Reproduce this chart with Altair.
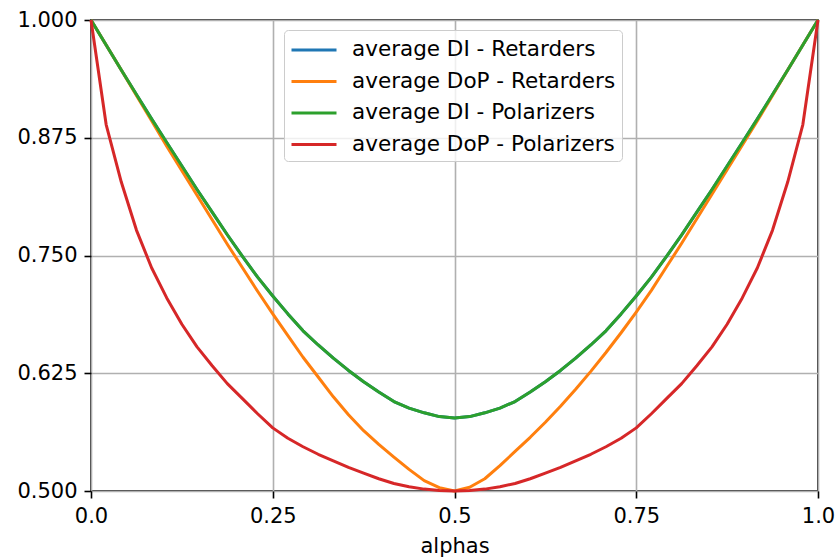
import altair as alt
import numpy as np
import pandas as pd

# sample grid of mixing coefficients
alphas = np.linspace(0.0, 1.0, 49)

series_names = [
    "average DI - Retarders",
    "average DoP - Retarders",
    "average DI - Polarizers",
    "average DoP - Polarizers",
]
series_colors = ["#1f77b4", "#ff7f0e", "#2ca02c", "#d62728"]

di_retarders = [
    1.000, 0.9735, 0.947, 0.921, 0.895, 0.870, 0.845, 0.820, 0.796, 0.772,
    0.749, 0.727, 0.707, 0.688, 0.670, 0.655, 0.641, 0.628, 0.616, 0.605,
    0.595, 0.588, 0.583, 0.579, 0.5775,
    0.579, 0.583, 0.588, 0.595, 0.605, 0.616, 0.628, 0.641, 0.655, 0.670,
    0.688, 0.707, 0.727, 0.749, 0.772, 0.796, 0.820, 0.845, 0.870, 0.895,
    0.921, 0.947, 0.9735, 1.000,
]

dop_retarders = [
    1.000, 0.9735, 0.947, 0.920, 0.893, 0.866, 0.840, 0.814, 0.788, 0.762,
    0.737, 0.712, 0.688, 0.665, 0.642, 0.621, 0.600, 0.581, 0.564, 0.5495,
    0.536, 0.523, 0.511, 0.5035, 0.500,
    0.504, 0.513, 0.527, 0.542, 0.557, 0.573, 0.590, 0.608, 0.627, 0.647,
    0.668, 0.690, 0.713, 0.738, 0.763, 0.789, 0.815, 0.841, 0.867, 0.893,
    0.920, 0.947, 0.9735, 1.000,
]

di_polarizers = [
    1.000, 0.9735, 0.947, 0.921, 0.895, 0.870, 0.845, 0.820, 0.796, 0.772,
    0.749, 0.727, 0.707, 0.688, 0.670, 0.655, 0.641, 0.628, 0.616, 0.605,
    0.595, 0.588, 0.583, 0.579, 0.5775,
    0.579, 0.583, 0.588, 0.595, 0.605, 0.616, 0.628, 0.641, 0.655, 0.670,
    0.688, 0.707, 0.727, 0.749, 0.772, 0.796, 0.820, 0.845, 0.870, 0.895,
    0.921, 0.947, 0.9735, 1.000,
]

dop_polarizers = [
    1.000, 0.889, 0.828, 0.777, 0.737, 0.705, 0.677, 0.653, 0.633, 0.614,
    0.598, 0.582, 0.567, 0.556, 0.547, 0.539, 0.532, 0.525, 0.519, 0.513,
    0.508, 0.5045, 0.502, 0.5005, 0.500,
    0.5005, 0.502, 0.5045, 0.508, 0.513, 0.519, 0.525, 0.532, 0.539, 0.547,
    0.556, 0.567, 0.582, 0.598, 0.614, 0.633, 0.653, 0.677, 0.705, 0.737,
    0.777, 0.828, 0.889, 1.000,
]

x_ticks = [0.0, 0.25, 0.5, 0.75, 1.0]
x_tick_labels = ["0.0", "0.25", "0.5", "0.75", "1.0"]
y_ticks = [0.5, 0.625, 0.75, 0.875, 1.0]

rows = []
for k, (name, values) in enumerate(zip(
        series_names, [di_retarders, dop_retarders, di_polarizers, dop_polarizers])):
    for a, v in zip(alphas, values):
        rows.append({"alpha": float(a), "value": v, "series": name, "order": k})
df = pd.DataFrame(rows)

label_map = "{" + ",".join(f"'{t}':'{l}'" for t, l in zip(x_ticks, x_tick_labels)) + "}"

FONT = "DejaVu Sans"

chart = (
    alt.Chart(df)
    .mark_line(strokeWidth=3, strokeCap="butt", strokeJoin="round")
    .encode(
        x=alt.X(
            "alpha:Q",
            title="alphas",
            scale=alt.Scale(domain=[0, 1], nice=False, zero=False),
            axis=alt.Axis(
                values=x_ticks,
                labelExpr=f"{label_map}[toString(datum.value)] || datum.label",
                labelFlush=False,
            ),
        ),
        y=alt.Y(
            "value:Q",
            title=None,
            scale=alt.Scale(domain=[0.5, 1.0], nice=False, zero=False),
            axis=alt.Axis(values=y_ticks, format=".3f"),
        ),
        color=alt.Color(
            "series:N",
            scale=alt.Scale(domain=series_names, range=series_colors),
            sort=series_names,
            legend=alt.Legend(
                title=None,
                orient="none",
                legendX=193,
                legendY=10,
                # long horizontal handle drawn from the entry's left edge
                symbolType="M-1,0L2.6,0",
                symbolSize=625,
                symbolStrokeWidth=3,
                labelFontSize=21.5,
                labelFont=FONT,
                labelColor="black",
                labelLimit=0,
                labelOffset=34,
                padding=6,
                rowPadding=6.5,
                fillColor="rgba(255,255,255,0.8)",
                strokeColor="#cccccc",
                cornerRadius=4,
            ),
        ),
        order=alt.Order("order:Q"),
    )
    .properties(
        width=727,
        height=471,
        autosize=alt.AutoSizeParams(type="none"),
        padding={"left": 91, "top": 20, "right": 17, "bottom": 68},
        background="white",
    )
    .configure_view(stroke="black", strokeWidth=1.6)
    .configure_axis(
        domain=False,
        grid=True,
        gridColor="#b0b0b0",
        gridWidth=1.6,
        ticks=True,
        tickColor="black",
        tickWidth=1.6,
        tickSize=7,
        labelFont=FONT,
        labelFontSize=21,
        labelColor="black",
        labelPadding=7,
        titleFont=FONT,
        titleFontSize=21,
        titleFontWeight="normal",
        titleColor="black",
        titlePadding=9,
    )
)

chart.save("out.html", embed_options={"renderer": "svg", "actions": False})
